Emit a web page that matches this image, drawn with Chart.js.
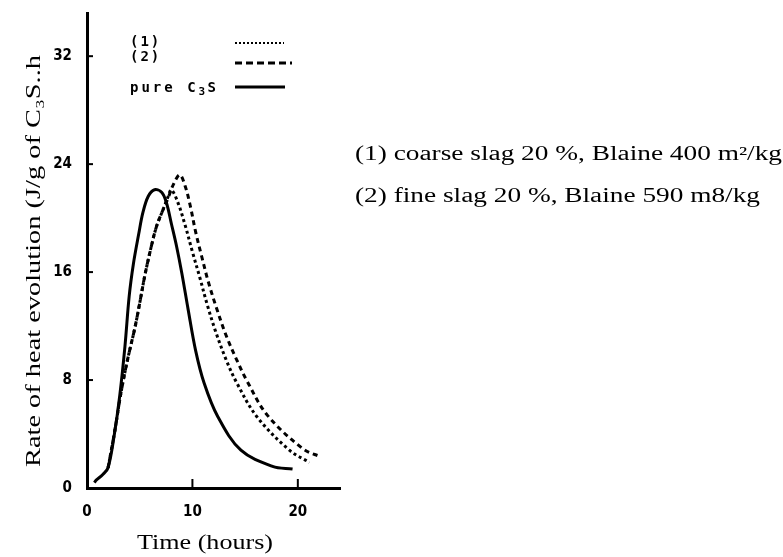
<!DOCTYPE html>
<html>
<head>
<meta charset="utf-8">
<script src="https://cdn.jsdelivr.net/npm/chart.js@4.4.1/dist/chart.umd.min.js"></script>
<style>
  html, body { margin: 0; background: #fff; }
  #wrap { width: 783px; height: 557px; }
</style>
</head>
<body>
<div id="wrap"><canvas id="heatChart"></canvas></div>
<script>
/* data (time in hours, rate in J/g) */
const pureTime = [0.7, 0.9, 1.5, 2.0, 2.6, 3.1, 3.6, 4.0, 4.4, 4.9, 5.3, 5.8, 6.4, 7.1, 7.55, 8.0, 8.5, 9.0, 9.6, 10.3, 11.1, 12.4, 14.6, 17.6, 19.5];
const pureRate = [0.4, 0.6, 1.0, 1.5, 4.0, 6.8, 10.5, 14.2, 16.6, 18.8, 20.4, 21.6, 22.1, 21.9, 21.1, 19.6, 17.9, 15.9, 13.2, 10.2, 7.8, 5.3, 2.8, 1.6, 1.4];

const coarseTime = [2.0, 2.65, 3.1, 3.45, 3.9, 4.55, 5.0, 5.5, 6.1, 6.6, 7.2, 7.7, 8.0, 8.6, 9.3, 10.0, 10.7, 11.4, 12.2, 13.2, 14.2, 16.1, 19.2, 21.1];
const coarseRate = [1.5, 4.3, 6.5, 8.0, 9.7, 11.9, 13.7, 15.8, 17.9, 19.4, 20.6, 21.6, 22.1, 21.2, 19.5, 17.5, 15.6, 13.6, 11.6, 9.5, 7.8, 5.3, 2.8, 1.9];

const fineTime = [2.0, 2.65, 3.1, 3.45, 3.9, 4.55, 5.0, 5.5, 6.1, 6.6, 7.2, 7.7, 8.2, 8.8, 9.3, 9.8, 10.3, 10.9, 11.5, 12.3, 13.2, 14.2, 15.2, 17.1, 20.5, 22.2];
const fineRate = [1.5, 4.3, 6.5, 8.0, 9.7, 11.9, 13.7, 15.8, 17.9, 19.4, 20.6, 21.5, 22.5, 23.2, 22.4, 20.9, 19.0, 17.1, 15.3, 13.3, 11.3, 9.5, 7.9, 5.4, 2.9, 2.3];

const yTicks = [0, 8, 16, 24, 32];
const xTicks = [0, 10, 20];

const yTitle = "Rate of heat evolution (J/g of C\u2083S..h";
const xTitle = "Time (hours)";
const notes = ["(1) coarse slag 20 %, Blaine 400 m\u00b2/kg", "(2) fine slag 20 %, Blaine 590 m8/kg"];

const pts = (t, v) => t.map((x, i) => ({ x, y: v[i] }));

const tickFont = { family: '"Liberation Sans Narrow", "DejaVu Sans Condensed", "DejaVu Sans", sans-serif', size: 15, weight: "bold" };
const serif = '"Liberation Serif", "DejaVu Serif", serif';

// draw text squeezed/stretched to a given width
function fitText(ctx, text, x, y, width) {
  const w = ctx.measureText(text).width;
  ctx.save();
  ctx.translate(x, y);
  ctx.scale(width / w, 1);
  ctx.fillText(text, 0, 0);
  ctx.restore();
}

/* =========================
   EXTRA DRAWING
   ========================= */
const decor = {
  id: "decor",
  afterDraw(chart) {
    const { ctx, scales: { x, y } } = chart;
    ctx.save();
    ctx.strokeStyle = "#000";
    ctx.fillStyle = "#000";

    // inward ticks
    ctx.lineWidth = 2;
    yTicks.forEach(v => {
      if (!v) return;
      const py = y.getPixelForValue(v);
      ctx.beginPath(); ctx.moveTo(x.left, py); ctx.lineTo(x.left + 6, py); ctx.stroke();
    });
    xTicks.forEach(v => {
      if (!v) return;
      const px = x.getPixelForValue(v);
      ctx.beginPath(); ctx.moveTo(px, y.bottom); ctx.lineTo(px, y.bottom - 9); ctx.stroke();
    });

    // legend inside plot
    ctx.textBaseline = "middle";
    ctx.font = 'bold 14px "DejaVu Sans Mono", monospace';
    ctx.letterSpacing = "2px";
    ctx.fillText("(1)", 130, 42);
    ctx.fillText("(2)", 130, 57);
    ctx.letterSpacing = "3px";
    ctx.fillText("pure C", 130, 88);
    const w = ctx.measureText("pure C").width;
    ctx.font = 'bold 11px "DejaVu Sans Mono", monospace';
    ctx.fillText("3", 130 + w, 92);
    ctx.font = 'bold 14px "DejaVu Sans Mono", monospace';
    ctx.fillText("S", 130 + w + 9, 88);
    ctx.letterSpacing = "0px";

    ctx.lineWidth = 2;
    ctx.setLineDash([2, 2]);
    ctx.beginPath(); ctx.moveTo(235, 43); ctx.lineTo(284, 43); ctx.stroke();
    ctx.lineWidth = 3;
    ctx.setLineDash([7, 4]);
    ctx.beginPath(); ctx.moveTo(235, 63); ctx.lineTo(292, 63); ctx.stroke();
    ctx.setLineDash([]);
    ctx.lineWidth = 3;
    ctx.beginPath(); ctx.moveTo(235, 87); ctx.lineTo(285, 87); ctx.stroke();

    // axis titles
    ctx.font = "21px " + serif;
    ctx.textBaseline = "alphabetic";
    fitText(ctx, xTitle, 137, 549, 136);
    ctx.save();
    ctx.translate(40, 467);
    ctx.rotate(-Math.PI / 2);
    fitText(ctx, yTitle, 0, 0, 412);
    ctx.restore();

    // notes on the right
    ctx.font = "20px " + serif;
    fitText(ctx, notes[0], 355, 160, 427);
    fitText(ctx, notes[1], 355, 202, 405);
    ctx.restore();
  }
};

/* =========================
   CHART
   ========================= */
const lineBase = { pointRadius: 0, fill: false, borderColor: "#000", tension: 0.35 };

new Chart(document.getElementById("heatChart"), {
  type: "line",
  data: {
    datasets: [
      { ...lineBase, label: "pure C3S", data: pts(pureTime, pureRate), borderWidth: 3 },
      { ...lineBase, label: "(1)", data: pts(coarseTime, coarseRate), borderWidth: 3, borderDash: [3, 3] },
      { ...lineBase, label: "(2)", data: pts(fineTime, fineRate), borderWidth: 3, borderDash: [5, 4] }
    ]
  },
  options: {
    responsive: true,
    maintainAspectRatio: false,
    animation: false,
    layout: { padding: { top: 13, right: 443, left: 0, bottom: 0 } },
    plugins: { legend: { display: false }, tooltip: { enabled: false } },
    scales: {
      x: {
        type: "linear", min: 0, max: 24,
        afterFit: s => { s.height = 69; s.paddingLeft = 0; s.paddingRight = 0; },
        afterBuildTicks: s => { s.ticks = xTicks.map(value => ({ value })); },
        grid: { display: false, drawTicks: false },
        border: { color: "#000", width: 3 },
        ticks: { color: "#000", font: tickFont, padding: 15, maxRotation: 0 }
      },
      y: {
        type: "linear", min: 0, max: 35.2,
        afterFit: s => { s.width = 87; s.paddingTop = 0; s.paddingBottom = 0; },
        afterBuildTicks: s => { s.ticks = yTicks.map(value => ({ value })); },
        grid: { display: false, drawTicks: false },
        border: { color: "#000", width: 3 },
        ticks: { color: "#000", font: tickFont, padding: 15 }
      }
    }
  },
  plugins: [decor]
});
</script>
</body>
</html>
